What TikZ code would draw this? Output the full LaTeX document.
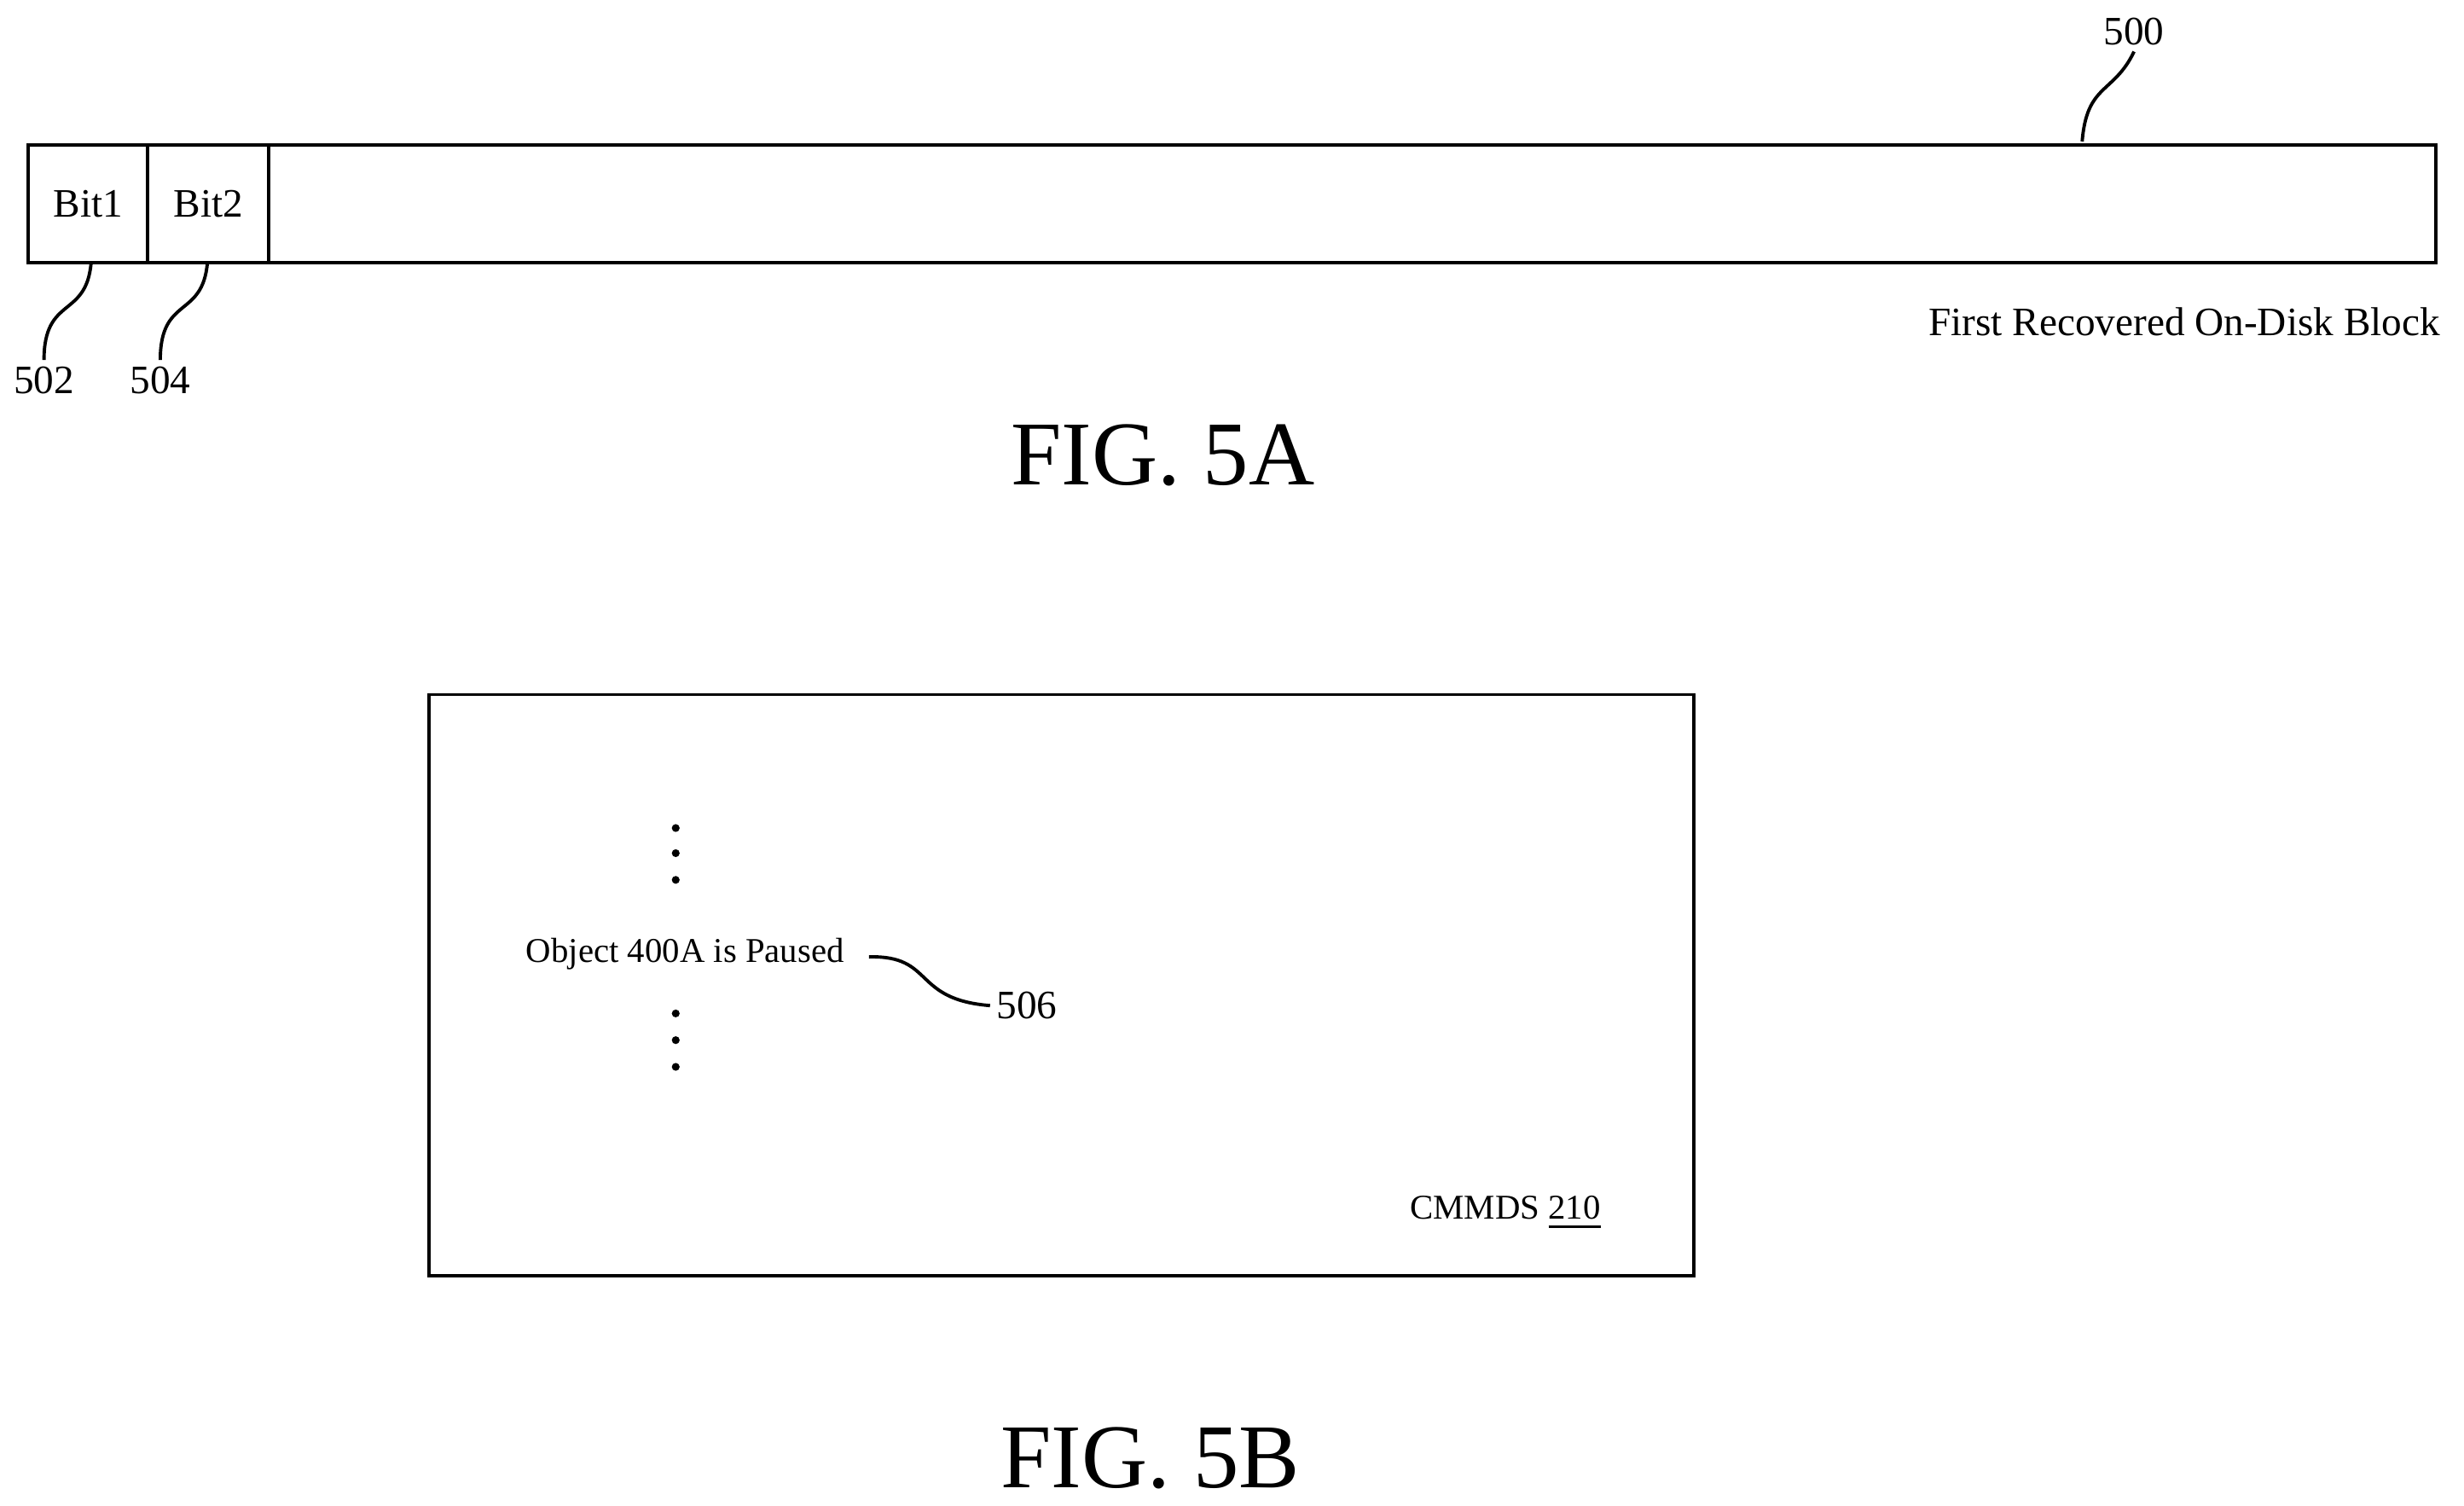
\documentclass[tikz,border=0pt]{standalone}
\usepackage{fontspec}
\setmainfont{Liberation Serif}
\usetikzlibrary{positioning}
\tikzset{
  cell/.style={draw,line width=0.6pt,minimum height=0.75cm,inner sep=0pt,anchor=north west},
  small/.style={font=\fontsize{7.3}{8.5}\selectfont,inner sep=1pt},
  tiny/.style={font=\fontsize{6.3}{7.5}\selectfont,inner sep=1pt},
  lead/.style={line width=0.6pt},
  fig/.style={font=\fontsize{16.5}{18}\selectfont}
}
\begin{document}
\begin{tikzpicture}
\useasboundingbox (0,0) rectangle (15.68,9.58);
% FIG. 5A
\node[cell,minimum width=15.32cm] (block) at (0.17,8.67) {};
\node[cell,minimum width=0.76cm,small] (bit1) at (0.17,8.67) {Bit1};
\node[cell,minimum width=0.77cm,small] (bit2) at (0.93,8.67) {Bit2};
\node[small] (l500) at (13.58,9.38) {500};
\node[small] (l502) at (0.28,7.16) {502};
\node[small] (l504) at (1.02,7.16) {504};
\node[small,anchor=east] (title) at (15.57,7.53) {First Recovered On-Disk Block};
\node[fig] (fig5a) at (7.40,6.68) {FIG. 5A};
\coordinate (c500) at (13.25,8.68);
\coordinate (c502) at (0.58,7.91);
\coordinate (c504) at (1.32,7.91);
\draw[lead] (c500) .. controls (13.28,9.05) and (13.45,8.98) .. (l500.south);
\draw[lead] (c502) .. controls (0.55,7.55) and (0.28,7.70) .. (l502.north);
\draw[lead] (c504) .. controls (1.29,7.55) and (1.02,7.70) .. (l504.north);
% FIG. 5B
\node[draw,line width=0.6pt,minimum width=8.05cm,minimum height=3.70cm,anchor=north west] (cmmds) at (2.72,5.17) {};
\node[tiny] (obj) at (4.36,3.51) {Object 400A is Paused};
\foreach \y in {4.31,4.15,3.98,3.13,2.96,2.79}
  \fill (4.30,\y) circle (0.025);
\node[small,anchor=west] (l506) at (6.30,3.18) {506};
\node[tiny] (name) at (9.58,1.86) {CMMDS \underline{210}};
\coordinate (c506) at (5.53,3.49);
\draw[lead] (c506) .. controls (5.95,3.50) and (5.80,3.22) .. (l506.west);
\node[fig] (fig5b) at (7.32,0.30) {FIG. 5B};
\end{tikzpicture}
\end{document}
